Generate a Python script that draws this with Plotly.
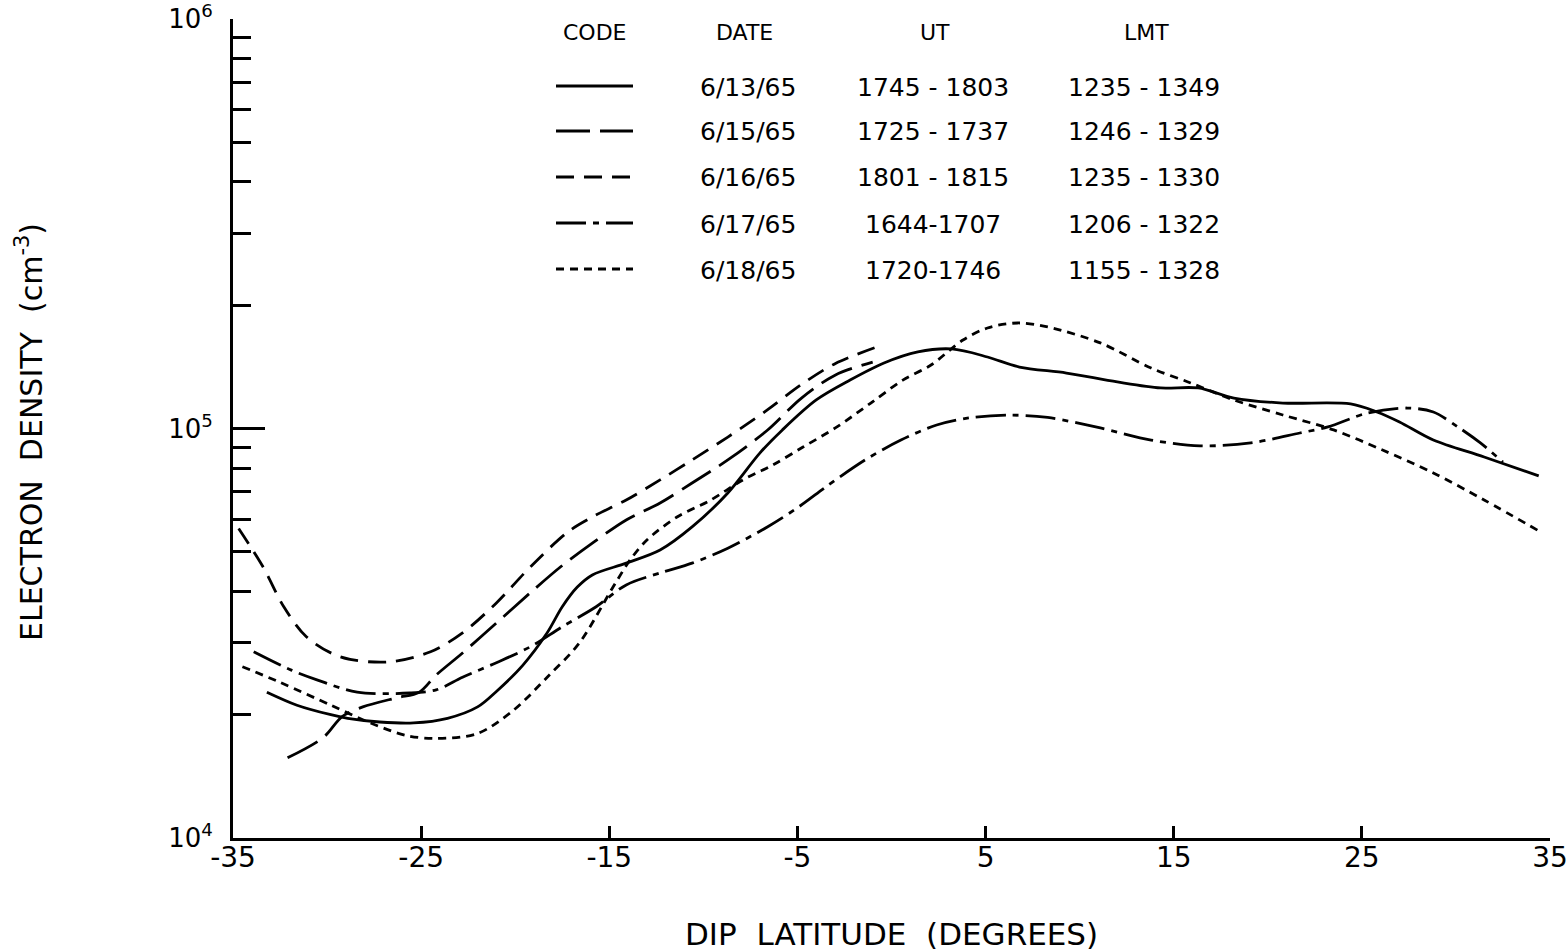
import plotly.graph_objects as go

# ---------------- data ----------------
lat_0613 = [-33.2, -31.6, -29.8, -28.9, -27.2, -25.4, -23.6, -22.0, -21.0, -19.6, -18.3, -17.5,
            -16.7, -15.9, -14.1, -12.3, -10.6, -8.7, -7.0, -5.8, -4.0, -2.2, -0.4, 1.4, 3.2,
            5.1, 6.8, 9.3, 12.0, 14.3, 16.3, 18.2, 20.8, 24.4, 25.8, 27.0, 28.8, 31.5, 34.4]
ne_0613 = [22700, 21100, 20000, 19600, 19200, 19100, 19600, 20900, 22800, 26400, 31700, 36700,
           41000, 43900, 46900, 50500, 57500, 69600, 87100, 99200, 117400, 131300, 144500, 153800, 156400,
           149500, 141300, 136600, 129900, 125600, 125600, 118700, 115400, 114800, 109700, 103700, 93700, 85200, 76600]

lat_0615 = [-32.1, -30.2, -29.2, -28.1, -26.3, -25.1, -24.2, -22.8, -21.0, -19.2, -17.6, -15.9,
            -14.1, -12.3, -10.6, -8.7, -6.6, -4.8, -3.0, -1.0]
ne_0615 = [15700, 17600, 19800, 20900, 22000, 22700, 25000, 28300, 33500, 39700, 45900, 52500,
           59800, 65800, 73600, 83800, 99000, 118500, 135000, 145300]

lat_0616 = [-34.7, -33.4, -32.3, -31.1, -29.3, -26.8, -24.5, -22.8, -21.0, -19.2, -17.2, -15.9,
            -14.1, -12.3, -10.6, -8.7, -6.6, -4.8, -3.0, -0.8]
ne_0616 = [57000, 45900, 36700, 31000, 27700, 26900, 28500, 31700, 37500, 45900, 55900, 60800,
           66900, 74900, 83800, 95300, 111000, 128000, 144000, 158100]

lat_0617 = [-33.9, -31.9, -30.5, -28.4, -25.6, -24.2, -22.8, -21.0, -19.2, -17.5, -15.7, -14.1,
            -12.3, -10.6, -8.7, -6.6, -4.9, -3.4, -1.4, 0.5, 2.4, 4.1, 6.3, 8.3, 11.1, 13.8,
            16.4, 19.1, 21.7, 23.2, 25.3, 27.4, 28.8, 30.1, 31.3, 32.5]
ne_0617 = [28500, 25700, 24300, 22700, 22600, 23000, 24700, 26800, 29300, 32800, 36700, 41500,
           44400, 46900, 51000, 57500, 64500, 72500, 83800, 93700, 102000, 106100, 107800, 106400, 100300, 93700,
           90700, 92200, 97500, 100900, 109100, 112200, 109700, 100900, 92200, 82800]

lat_0618 = [-34.5, -32.5, -29.8, -27.7, -25.8, -24.2, -22.0, -20.1, -18.3, -16.6, -14.8, -13.9,
            -13.0, -11.4, -9.6, -7.9, -6.3, -4.7, -2.9, -1.1, 0.6, 2.1, 3.8, 5.1, 6.7, 8.3,
            11.1, 13.8, 15.9, 18.2, 20.8, 23.5, 26.1, 28.8, 31.5, 34.5]
ne_0618 = [26200, 24000, 21100, 19100, 17800, 17500, 18000, 20500, 24700, 29900, 41000, 47700,
           53400, 60800, 66900, 74900, 81500, 90100, 100900, 115400, 131300, 142900, 164500, 176000, 181000, 177000,
           161800, 140500, 129200, 117400, 107900, 99200, 88600, 77900, 66900, 55900]

dates = ["6/13/65", "6/15/65", "6/16/65", "6/17/65", "6/18/65"]
ut_ranges = ["1745 - 1803", "1725 - 1737", "1801 - 1815", "1644-1707", "1720-1746"]
lmt_ranges = ["1235 - 1349", "1246 - 1329", "1235 - 1330", "1206 - 1322", "1155 - 1328"]
headers = ["CODE", "DATE", "UT", "LMT"]

x_ticks = [-35, -25, -15, -5, 5, 15, 25, 35]
x_ticktext = ["-35", "-25", "-15", "-5", "5", "15", "25", "35"]
y_ticks = [1e4, 1e5, 1e6]
y_ticktext = ["10<sup>4</sup>", "10<sup>5</sup>", "10<sup>6</sup>"]
y_minor = [m * 10 ** e for e in (4, 5) for m in range(2, 10)]

# ---------------- styling ----------------
FONT = "DejaVu Sans"
dashes = ["solid", "34px,10px", "18px,10px", "30px,7px,6px,7px", "8px,6px"]
series = [(lat_0613, ne_0613), (lat_0615, ne_0615), (lat_0616, ne_0616),
          (lat_0617, ne_0617), (lat_0618, ne_0618)]

fig = go.Figure()
for (xs, ys), dash, d in zip(series, dashes, dates):
    fig.add_trace(go.Scatter(x=xs, y=ys, mode="lines", name=d,
                             line=dict(color="black", width=2.8, dash=dash,
                                       shape="spline", smoothing=0.9),
                             showlegend=False))

L, R, T, B = 233, 18, 19, 113
W, H = 1568, 951
pw, ph = W - L - R, H - T - B


def px(xp):
    return (xp - L) / pw


def py(yp):
    return (H - B - yp) / ph


def label(x, y, text, size, angle=0):
    fig.add_annotation(x=x, y=y, xref="paper", yref="paper", text=text,
                       showarrow=False, xanchor="center", yanchor="middle",
                       textangle=angle, font=dict(family=FONT, size=size, color="black"))


# legend table (headers, sample lines, text)
head_x = [595, 744, 935, 1146]
for h, hx in zip(headers, head_x):
    label(px(hx), py(32), h, 22)

row_y = [86, 131, 177, 223, 269]
for i, ry in enumerate(row_y):
    fig.add_shape(type="line", xref="paper", yref="paper",
                  x0=px(556), x1=px(633), y0=py(ry), y1=py(ry),
                  line=dict(color="black", width=2.8, dash=dashes[i]))
    for txt, cx in ((dates[i], 748), (ut_ranges[i], 933), (lmt_ranges[i], 1144)):
        label(px(cx), py(ry + 1), txt, 25)

# axis titles
label(0.5, py(934), "DIP  LATITUDE  (DEGREES)", 31)
label(px(29), py(432), "ELECTRON  DENSITY  (cm<sup>-3</sup>)", 30, angle=-90)

fig.update_layout(
    width=W, height=H,
    margin=dict(l=L, r=R, t=T, b=B, autoexpand=False),
    paper_bgcolor="white", plot_bgcolor="white",
    font=dict(family=FONT, color="black"),
    showlegend=False,
)
fig.update_xaxes(
    range=[-35, 35], tickmode="array", tickvals=x_ticks, ticktext=x_ticktext,
    ticks="inside", ticklen=12, tickwidth=2.5, tickcolor="black", automargin=False,
    showline=True, linecolor="black", linewidth=3, showgrid=False, zeroline=False,
    tickfont=dict(family=FONT, size=28, color="black"), ticklabelstandoff=-8,
)
fig.update_yaxes(
    type="log", range=[4, 6], tickmode="array", tickvals=y_ticks, ticktext=y_ticktext,
    ticks="inside", ticklen=32, tickwidth=2.5, tickcolor="black", automargin=False,
    minor=dict(tickmode="array", tickvals=y_minor, ticks="inside", ticklen=18,
               tickwidth=2.5, tickcolor="black", showgrid=False),
    showline=True, linecolor="black", linewidth=3, showgrid=False, zeroline=False,
    tickfont=dict(family=FONT, size=26, color="black"), ticklabelstandoff=12,
)

fig.write_html("out.html")
